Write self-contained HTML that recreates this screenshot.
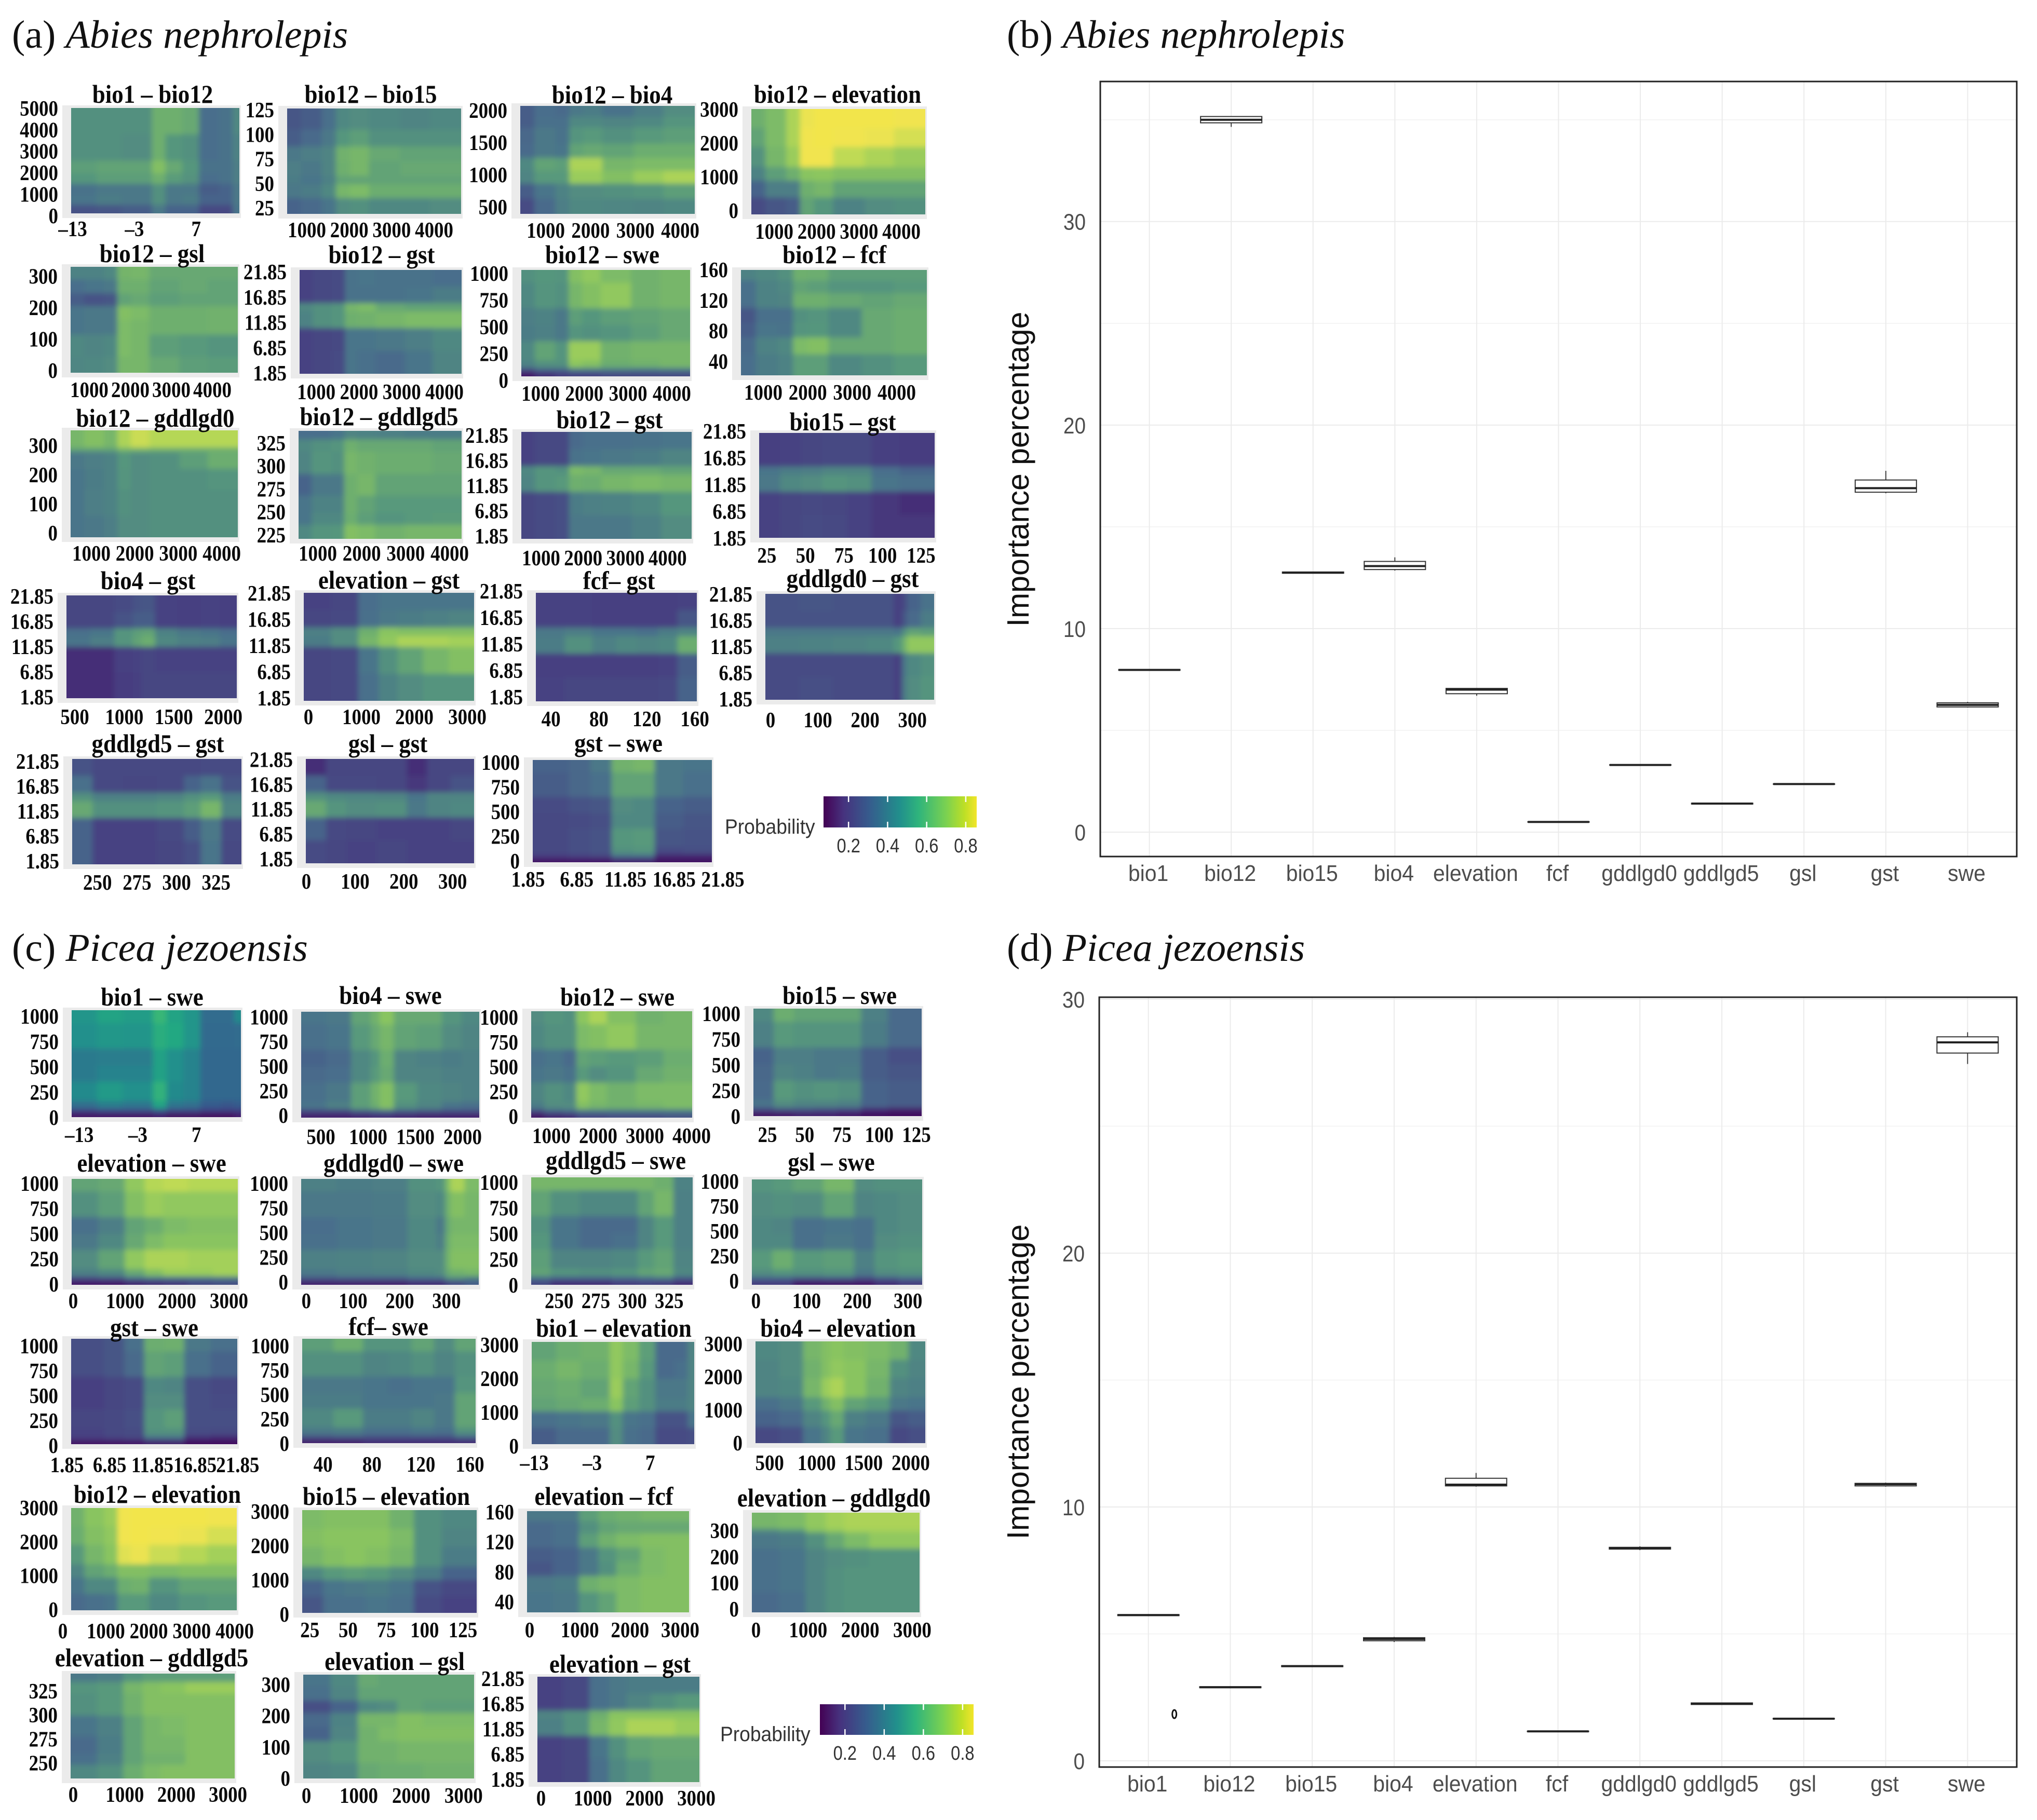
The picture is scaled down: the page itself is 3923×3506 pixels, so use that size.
<!DOCTYPE html>
<html lang="en">
<head>
<meta charset="utf-8">
<title>Partial dependence heatmaps and variable importance</title>
<style>
html,body{margin:0;padding:0;background:#fff;}
svg{display:block;}
.tick{font-family:"Liberation Serif",serif;font-weight:700;font-size:42px;fill:#0a0a0a;}
.title{font-family:"Liberation Serif",serif;font-weight:700;font-size:50px;fill:#0a0a0a;}
.panel{font-family:"Liberation Serif",serif;font-size:76px;fill:#111;}
.axis{font-family:"Liberation Sans",sans-serif;font-size:44px;fill:#4d4d4d;}
.ylab{font-family:"Liberation Sans",sans-serif;font-size:59px;fill:#111;}
.leg{font-family:"Liberation Sans",sans-serif;font-size:40px;fill:#333;}
</style>
</head>
<body>
<svg id="figure" xmlns="http://www.w3.org/2000/svg" width="3923" height="3506" viewBox="0 0 3923 3506">
<rect width="3923" height="3506" fill="#fff"/>
<defs>
<filter id="soft" x="-5%" y="-5%" width="110%" height="110%"><feGaussianBlur stdDeviation="5"/></filter>
<linearGradient id="legendRamp" x1="0" x2="1" y1="0" y2="0">
<stop offset="0" stop-color="#440154"/><stop offset=".13" stop-color="#46327e"/><stop offset=".3" stop-color="#365c8d"/><stop offset=".5" stop-color="#21908c"/><stop offset=".62" stop-color="#2fb47c"/><stop offset=".8" stop-color="#7ad151"/><stop offset=".92" stop-color="#bddf26"/><stop offset="1" stop-color="#f2e52a"/>
</linearGradient>
</defs>
<text class="panel" x="23" y="92">(a) <tspan font-style="italic">Abies nephrolepis</tspan></text>
<text class="panel" x="1939" y="92">(b) <tspan font-style="italic">Abies nephrolepis</tspan></text>
<text class="panel" x="23" y="1851">(c) <tspan font-style="italic">Picea jezoensis</tspan></text>
<text class="panel" x="1939" y="1851">(d) <tspan font-style="italic">Picea jezoensis</tspan></text>
<text class="ylab" text-anchor="middle" transform="translate(1981,904) rotate(-90)">Importance percentage</text>
<text class="ylab" text-anchor="middle" transform="translate(1981,2662) rotate(-90)">Importance percentage</text>
<g id="heatmaps"></g>
<g id="boxes"></g>
<g id="legends"></g>
</svg>
<script>
// ---- box plot data ----
const categories=["bio1","bio12","bio15","bio4","elevation","fcf","gddlgd0","gddlgd5","gsl","gst","swe"];
const abiesLow=[7.94,34.65,12.7,12.85,6.7,0.49,3.28,1.38,2.34,16.65,6.12];
const abiesQ1=[7.95,34.85,12.72,12.9,6.8,0.49,3.29,1.38,2.35,16.7,6.15];
const abiesMedian=[7.97,35.0,12.75,13.07,7.0,0.5,3.3,1.4,2.36,16.9,6.25];
const abiesQ3=[7.99,35.16,12.78,13.3,7.06,0.51,3.31,1.42,2.37,17.3,6.35];
const abiesHigh=[8.0,35.18,12.8,13.5,7.08,0.51,3.32,1.43,2.38,17.75,6.4];
const piceaLow=[5.7,2.86,3.7,4.68,10.8,1.14,8.3,2.2,1.64,10.8,27.45];
const piceaQ1=[5.72,2.88,3.71,4.73,10.83,1.15,8.34,2.22,1.65,10.83,27.88];
const piceaMedian=[5.74,2.9,3.73,4.8,10.88,1.16,8.38,2.25,1.66,10.9,28.3];
const piceaQ3=[5.76,2.92,3.75,4.85,11.13,1.17,8.41,2.28,1.67,10.93,28.52];
const piceaHigh=[5.78,2.94,3.77,4.88,11.34,1.18,8.45,2.3,1.68,10.96,28.7];
const piceaOutliers=[1.84];
const importanceTicks=[0,10,20,30];
const importanceMinor=[5,15,25,35];
const legendTicks=[0.2,0.4,0.6,0.8];

// ---- tick labels ----
const T1000to4000=[1000,2000,3000,4000];
const T0to4000=[0,1000,2000,3000,4000];
const Tbio1=[-13,-3,7];
const Tbio4=[500,1000,1500,2000];
const Tbio15=[25,50,75,100,125];
const Tbio15short=[25,50,75,100,125];
const Tswe=[0,250,500,750,1000];
const Tgst=["1.85","6.85","11.85","16.85","21.85"];
const Telev=[0,1000,2000,3000];
const Tfcf=[40,80,120,160];
const Tgdd0=[0,100,200,300];
const Tgdd5=[250,275,300,325];
const Tgsl=[0,100,200,300];

// ---- cell edges of each predictor (fraction of panel) ----
const colEdges={
 bio1:[0,.15,.3,.48,.56,.66,.76,.88,.96,1],
 bio12:[0,.08,.2,.28,.36,.47,.65,.82,1],
 bio4:[0,.14,.28,.39,.44,.52,.65,.79,.9,1],
 bio15:[0,.12,.24,.36,.5,.64,.8,1],
 elevation:[0,.16,.32,.44,.55,.7,.85,1],
 fcf:[0,.18,.35,.5,.63,.76,.88,1],
 gdd0:[0,.2,.4,.6,.76,.81,.84,.92,1],
 gdd5:[0,.12,.3,.5,.66,.76,.88,1],
 gsl:[0,.12,.24,.42,.6,.72,.86,1],
 gst:[0,.2,.32,.44,.56,.68,.84,1]
};
const rowEdges={
 bio12:[0,.25,.5,.62,.72,.82,.92,1],
 bio15:[0,.2,.36,.5,.64,.72,.85,1],
 bio4:[0,.1,.2,.35,.48,.6,.72,.86,1],
 elevation:[0,.18,.36,.55,.68,.84,1],
 gsl:[0,.12,.25,.37,.5,.64,.85,1],
 gst:[0,.16,.32,.4,.56,.78,1],
 gstB:[0,.16,.32,.4,.5,.75,1],
 swe:[0,.12,.36,.52,.67,.85,.92,.96,1],
 fcf:[0,.1,.22,.36,.5,.64,.8,1],
 gdd0:[0,.16,.2,.36,.55,.8,1],
 gdd5:[0,.08,.19,.4,.6,.76,.87,1]
};

// ---- heatmap probabilities (percent), read by eye ----
const a1=[[42,42,42,55,55,52,25,27,38],[42,42,40,55,45,42,25,27,35],[48,50,50,62,52,45,27,27,33],[45,48,48,55,47,43,25,27,33],[27,30,30,42,30,30,20,22,30],[28,32,30,42,30,32,22,22,30],[17,18,20,30,22,22,14,14,28]];
const a2=[[18,20,26,38,40,38,36,38],[20,24,30,45,48,42,42,42],[30,33,36,56,58,52,50,50],[33,30,36,55,58,50,52,52],[32,28,34,50,50,50,50,50],[30,32,38,58,60,54,54,54],[22,24,28,40,42,38,38,40]];
const a3=[[20,25,24,30,32,27,33,40],[20,26,26,38,38,36,38,44],[23,30,27,44,46,42,46,48],[24,30,28,50,52,50,54,54],[38,50,48,72,72,58,60,60],[36,46,46,68,68,62,68,72],[20,28,35,40,40,42,44,48],[15,24,33,38,38,37,36,38]];
const a4=[[55,60,72,84,88,88,88,86],[50,60,72,86,88,86,84,80],[43,58,68,86,86,76,72,68],[35,48,55,64,65,62,62,62],[22,33,33,55,58,50,50,50],[15,18,20,50,45,35,40,42]];
const a5=[[35,35,38,57,58,52,52,52],[25,28,30,55,55,50,52,50],[20,17,18,50,52,48,50,50],[28,30,30,62,60,55,55,56],[28,30,30,60,58,55,55,56],[38,36,38,60,58,48,46,44],[37,38,40,58,58,52,48,47]];
const a6=[[12,14,15,27,28,27,27,25],[12,14,15,27,27,27,28,32],[38,42,44,58,60,52,50,50],[35,42,44,55,56,58,60,60],[12,13,14,28,28,30,33,38],[12,13,15,28,26,24,28,36]];
const a7=[[42,45,44,62,66,60,56,58],[38,44,42,58,62,66,56,58],[33,35,30,48,45,48,50,52],[32,34,30,44,42,44,48,52],[38,50,44,68,68,56,58,58],[35,42,42,65,62,54,56,58],[15,22,22,30,30,30,28,30],[5,8,10,12,12,14,14,15]];
const a8=[[35,38,42,55,54,48,48,48],[26,35,38,50,48,44,44,46],[26,35,36,55,55,52,50,52],[18,26,26,42,44,38,52,54],[20,28,27,44,45,38,52,54],[24,35,38,60,62,52,52,54],[25,32,35,48,48,38,42,46]];
const a9=[[58,62,58,72,78,74,74,74],[50,50,50,58,58,56,55,55],[30,33,35,45,40,42,48,54],[28,32,35,44,40,42,42,44],[28,33,35,42,40,42,42,42],[28,30,33,40,40,42,42,42]];
const a10=[[25,25,28,36,35,34,32,32],[38,42,44,55,52,52,52,50],[36,44,42,58,56,54,54,52],[22,30,30,55,58,50,50,50],[28,35,35,55,50,46,46,46],[28,38,38,54,48,44,46,47],[38,44,45,62,60,56,58,58]];
const a11=[[12,14,14,24,26,26,27,28],[12,14,14,27,28,30,32,36],[38,44,42,60,58,52,52,50],[36,44,46,55,54,58,60,58],[13,15,16,32,34,35,38,45],[13,15,16,30,30,30,34,40]];
const a12=[[11,12,13,14,14,11,10],[11,12,13,14,14,11,10],[28,32,33,36,36,25,22],[30,38,40,44,42,28,26],[12,13,14,13,12,9,8],[12,13,15,14,12,9,9]];
const a13=[[13,13,15,17,18,12,11,12,11],[13,13,17,20,20,12,11,12,11],[26,29,44,48,50,35,30,28,25],[28,33,44,50,54,38,34,33,28],[8,8,11,12,13,12,12,12,12],[8,8,10,11,13,13,13,13,13]];
const a14=[[12,13,25,28,28,28,28],[13,14,26,30,32,34,36],[34,40,55,64,62,62,62],[32,40,58,66,72,72,70],[13,14,28,42,50,58,62],[13,14,26,35,40,44,44]];
const a15=[[12,12,11,11,11,11,12],[12,12,11,11,11,11,18],[30,33,28,28,26,32,36],[32,42,34,38,36,38,54],[11,11,11,11,11,12,20],[12,13,13,13,13,14,22]];
const a16=[[17,18,17,17,11,15,22,27],[17,17,17,17,11,18,24,32],[30,30,30,30,28,42,50,48],[34,35,36,38,45,56,66,66],[15,15,15,15,11,30,38,42],[15,16,15,15,11,32,40,44]];
const a17=[[17,14,14,14,14,15,15],[26,14,13,14,22,27,17],[42,34,34,36,42,46,32],[52,42,42,44,48,58,36],[22,12,12,14,20,30,15],[22,12,12,13,16,28,14]];
const a18=[[8,13,13,13,8,13,13],[22,14,14,13,9,13,17],[42,38,37,36,28,36,36],[52,44,40,42,30,36,38],[22,14,13,12,12,12,13],[15,13,12,13,12,12,12]];
const a19=[[22,23,30,56,58,30,28],[20,23,26,50,50,30,26],[15,17,18,40,38,22,20],[14,15,16,38,38,20,18],[14,16,17,45,46,18,17],[14,16,17,42,44,15,16],[10,12,13,26,26,7,7],[4,5,5,7,7,3,3]];
const c1=[[52,58,55,66,58,52,38,38,48],[50,53,52,62,60,52,37,37,38],[43,44,44,57,50,46,36,36,36],[43,46,46,57,50,46,36,36,36],[48,54,50,64,48,46,36,36,36],[40,44,42,58,42,40,30,28,30],[20,24,24,30,22,22,18,18,18],[6,6,6,8,5,5,4,4,8]];
const c2=[[28,30,50,56,64,52,52,44,38],[26,28,46,52,58,50,48,40,36],[22,24,38,44,54,36,34,32,34],[24,25,38,46,52,36,36,34,34],[26,30,48,56,62,46,38,36,34],[28,34,48,54,62,42,36,28,26],[14,14,20,22,24,20,18,16,16],[6,6,7,8,8,7,6,6,6]];
const c3=[[40,44,42,65,72,62,56,58],[38,42,42,60,62,66,58,58],[26,28,24,50,48,46,48,54],[28,30,27,46,40,44,52,56],[36,42,38,66,60,56,60,60],[32,40,40,62,58,56,58,60],[14,22,24,30,30,30,30,30],[4,7,8,14,14,16,16,18]];
const c4=[[38,54,50,50,50,34,24],[34,46,44,44,44,32,24],[22,33,33,30,30,20,16],[23,36,34,30,32,20,18],[24,46,42,44,42,22,20],[28,40,36,36,34,22,20],[15,18,18,16,14,8,6],[4,5,6,6,5,2,1]];
const c5=[[50,52,66,74,76,74,74],[42,48,62,68,66,66,66],[26,33,50,54,60,62,62],[30,38,52,60,64,64,64],[40,50,66,72,72,70,70],[34,38,52,62,68,68,70],[15,17,25,28,28,28,30],[5,5,7,8,9,14,16]];
const c6=[[34,32,33,42,44,60,72,60],[30,30,31,40,38,55,62,58],[25,28,30,38,30,52,58,58],[26,28,30,38,33,54,60,60],[34,35,36,40,40,56,62,62],[30,33,34,38,40,52,56,58],[18,20,20,24,24,40,40,32],[6,6,6,8,8,12,15,20]];
const c7=[[58,58,58,58,58,55,35],[50,42,38,38,50,58,34],[42,28,24,24,36,46,34],[45,28,24,26,36,46,34],[48,36,36,38,46,50,36],[50,44,42,44,50,52,38],[26,22,22,24,26,30,20],[14,8,8,10,12,10,8]];
const c8=[[44,46,50,58,40,42,42],[40,42,40,50,36,38,40],[38,36,26,28,26,38,40],[38,38,26,30,26,40,42],[46,54,46,48,34,44,46],[40,44,42,44,30,40,42],[22,22,18,20,15,20,24],[10,10,5,5,5,8,10]];
const c9=[[16,18,26,54,55,30,26],[16,18,24,50,48,26,22],[11,13,15,38,36,16,14],[11,13,15,40,40,16,15],[13,14,16,44,48,16,16],[12,14,15,42,42,15,14],[10,12,13,26,26,8,7],[4,4,5,6,6,2,2]];
const c10=[[48,54,44,44,50,40,50],[42,42,36,38,42,36,42],[30,30,28,26,28,28,44],[32,32,28,28,28,30,50],[38,46,32,32,36,30,50],[30,32,26,26,28,26,42],[18,20,18,18,18,18,24],[6,6,8,8,8,8,8]];
const c11=[[50,54,56,66,60,48,24,24,36],[54,58,54,66,58,46,24,26,36],[52,54,50,68,50,42,30,30,36],[50,52,54,64,48,42,32,32,36],[26,28,30,42,28,26,17,17,28],[20,24,24,40,26,24,15,15,16]];
const c12=[[38,40,58,62,64,62,60,56,38],[36,40,56,62,66,64,58,42,36],[36,38,58,68,72,64,56,36,34],[26,30,46,56,62,50,46,30,28],[22,24,36,44,52,34,30,18,20],[14,16,28,36,46,28,26,14,16]];
const c13=[[56,64,68,86,88,88,88,86],[54,62,66,86,88,86,84,80],[46,58,64,82,84,78,74,70],[36,50,54,62,62,60,62,62],[28,38,38,54,56,44,50,50],[24,26,28,46,46,38,44,46]];
const c14=[[60,62,62,62,56,42,38],[62,64,64,64,60,42,36],[58,62,64,62,58,42,32],[38,46,48,46,40,32,22],[22,28,30,32,28,17,14],[18,26,26,28,26,15,12]];
const c15=[[30,30,48,54,56,58,58],[24,26,42,50,52,52,52],[24,26,48,56,60,62,62],[20,22,30,44,50,60,62],[18,22,30,42,54,60,62],[30,32,55,58,60,62,62],[28,30,44,50,60,62,62]];
const c16=[[58,60,66,70,72,72,72],[40,46,62,66,70,70,70],[30,32,42,52,60,66,66],[26,28,36,40,42,44,44],[26,28,36,42,44,44,44],[24,26,36,42,44,44,44]];
const c17=[[30,33,44,48,48,48,48],[44,46,58,62,64,68,68],[42,46,56,62,62,62,62],[28,34,50,58,60,62,62],[24,32,50,58,58,62,62],[26,34,50,56,56,62,62],[38,42,54,60,62,62,62]];
const c18=[[28,38,52,50,50,50,50],[26,36,50,50,50,50,50],[16,22,38,40,50,48,48],[24,35,58,58,62,60,60],[22,36,56,60,62,62,62],[40,44,56,56,58,58,58],[36,38,52,54,54,56,56]];
const c19=[[12,14,26,30,32,32,32],[12,14,26,30,36,42,46],[36,42,55,64,64,64,64],[34,42,58,66,72,72,68],[12,13,28,42,50,52,52],[12,13,26,38,44,50,50]];

// ---- layout of each small panel ----
const layout=[
{t:"bio1 – bio12",tx:294,ty:198,c:a1,cv:"bio1",rv:"bio12",b:[137,208,461,411],xd:[-13.25,14],yd:[120,5020],xt:Tbio1,yt:[0,1000,2000,3000,4000,5000],xo:30},
{t:"bio12 – bio15",tx:714,ty:198,c:a2,cv:"bio12",rv:"bio15",b:[553,209,888,412],xd:[535,4636],yd:[19.2,126.6],xt:T1000to4000,yt:Tbio15,xo:31},
{t:"bio12 – bio4",tx:1179,ty:199,c:a3,cv:"bio12",rv:"bio4",b:[1002,204,1338,412],xd:[432,4324],yd:[395,2073],xt:T1000to4000,yt:Tbio4,xo:32},
{t:"bio12 – elevation",tx:1613,ty:198,c:a4,cv:"bio12",rv:"elevation",b:[1447,210,1782,413],xd:[461,4563],yd:[-108,3015],xt:T1000to4000,yt:Telev,xo:33},
{t:"bio12 – gsl",tx:293,ty:505,c:a5,cv:"bio12",rv:"gsl",b:[136,514,458,718],xd:[545,4620],yd:[-6.6,331],xt:T1000to4000,yt:Tgsl,xo:33},
{t:"bio12 – gst",tx:735,ty:507,c:a6,cv:"bio12",rv:"gst",b:[577,520,889,720],xd:[610,4400],yd:[1.75,22.26],xt:T1000to4000,yt:Tgst,xo:35},
{t:"bio12 – swe",tx:1160,ty:507,c:a7,cv:"bio12",rv:"swe",b:[1004,520,1329,725],xd:[560,4417],yd:[39,1034],xt:T1000to4000,yt:Tswe,xo:33},
{t:"bio12 – fcf",tx:1607,ty:507,c:a8,cv:"bio12",rv:"fcf",b:[1427,520,1785,723],xd:[498,4677],yd:[22,160],xt:T1000to4000,yt:Tfcf,xo:33},
{t:"bio12 – gddlgd0",tx:299,ty:822,c:a9,cv:"bio12",rv:"gdd0",b:[136,829,458,1035],xd:[522,4370],yd:[-14,353],xt:T1000to4000,yt:Tgdd0,xo:31},
{t:"bio12 – gddlgd5",tx:730,ty:819,c:a10,cv:"bio12",rv:"gdd5",b:[575,830,889,1038],xd:[563,4271],yd:[221,338.5],xt:T1000to4000,yt:[225,250,275,300,325],xo:28},
{t:"bio12 – gst",tx:1174,ty:825,c:a11,cv:"bio12",rv:"gst",b:[1004,832,1332,1038],xd:[533,4570],yd:[1.33,22.57],xt:T1000to4000,yt:Tgst,xo:37},
{t:"bio15 – gst",tx:1623,ty:829,c:a12,cv:"bio15",rv:"gst",b:[1462,834,1800,1036],xd:[20,133.8],yd:[1.95,21.56],xt:Tbio15,yt:Tgst,xo:34},
{t:"bio4 – gst",tx:285,ty:1135,c:a13,cv:"bio4",rv:"gstB",b:[128,1147,456,1345],xd:[416,2136],yd:[1.65,22.05],xt:Tbio4,yt:Tgst,xo:36},
{t:"elevation – gst",tx:749,ty:1134,c:a14,cv:"elevation",rv:"gstB",b:[585,1142,913,1350],xd:[-88,3127],yd:[1.35,21.95],xt:Telev,yt:Tgst,xo:31},
{t:"fcf– gst",tx:1192,ty:1135,c:a15,cv:"fcf",rv:"gst",b:[1032,1142,1342,1351],xd:[27.4,161.7],yd:[1.05,21.55],xt:Tfcf,yt:Tgst,xo:34},
{t:"gddlgd0 – gst",tx:1642,ty:1131,c:a16,cv:"gdd0",rv:"gst",b:[1474,1144,1799,1348],xd:[-11,346],yd:[1.75,21.95],xt:Tgdd0,yt:Tgst,xo:39},
{t:"gddlgd5 – gst",tx:304,ty:1449,c:a17,cv:"gdd5",rv:"gst",b:[139,1462,465,1665],xd:[234,341],yd:[1.2,22.35],xt:Tgdd5,yt:Tgst,xo:35},
{t:"gsl – gst",tx:747,ty:1449,c:a18,cv:"gsl",rv:"gst",b:[589,1462,913,1663],xd:[-1,344],yd:[1,22],xt:Tgsl,yt:Tgst,xo:35},
{t:"gst – swe",tx:1191,ty:1448,c:a19,cv:"gst",rv:"swe",b:[1026,1464,1371,1661],xd:[2.33,20.73],yd:[-10,1026],xt:Tgst,yt:Tswe,xo:33},
{t:"bio1 – swe",tx:293,ty:1937,c:c1,cv:"bio1",rv:"swe",b:[138,1946,464,2152],xd:[-14.3,14.6],yd:[5,1062],xt:Tbio1,yt:Tswe,xo:34,vivid:true},
{t:"bio4 – swe",tx:752,ty:1934,c:c2,cv:"bio4",rv:"swe",b:[580,1949,923,2153],xd:[291,2176],yd:[-20,1055],xt:Tbio4,yt:Tswe,xo:37},
{t:"bio12 – swe",tx:1189,ty:1937,c:c3,cv:"bio12",rv:"swe",b:[1023,1948,1333,2153],xd:[567,4011],yd:[-10,1063],xt:T1000to4000,yt:Tswe,xo:35},
{t:"bio15 – swe",tx:1617,ty:1934,c:c4,cv:"bio15",rv:"swe",b:[1451,1943,1775,2150],xd:[15.6,128.5],yd:[5,1050],xt:Tbio15short,yt:Tswe,xo:36},
{t:"elevation – swe",tx:292,ty:2257,c:c5,cv:"elevation",rv:"swe",b:[138,2271,458,2475],xd:[-30,3170],yd:[-5,1046],xt:Telev,yt:Tswe,xo:31},
{t:"gddlgd0 – swe",tx:758,ty:2257,c:c6,cv:"gdd0",rv:"swe",b:[580,2271,922,2475],xd:[-11,369],yd:[-26,1047],xt:Tgdd0,yt:Tswe,xo:31},
{t:"gddlgd5 – swe",tx:1186,ty:2252,c:c7,cv:"gdd5",rv:"swe",b:[1023,2268,1334,2475],xd:[231,341],yd:[5,1050],xt:Tgdd5,yt:Tswe,xo:31},
{t:"gsl – swe",tx:1601,ty:2255,c:c8,cv:"gsl",rv:"swe",b:[1448,2272,1776,2475],xd:[-8,328],yd:[-36,1020],xt:Tgsl,yt:Tswe,xo:31},
{t:"gst – swe",tx:297,ty:2574,c:c9,cv:"gst",rv:"swe",b:[137,2579,457,2782],xd:[2.34,21.8],yd:[15,1073],xt:Tgst,yt:Tswe,xo:40},
{t:"fcf– swe",tx:748,ty:2572,c:c10,cv:"fcf",rv:"swe",b:[582,2579,916,2780],xd:[23,164.7],yd:[5,1074],xt:Tfcf,yt:Tswe,xo:41},
{t:"bio1 – elevation",tx:1182,ty:2575,c:c11,cv:"bio1",rv:"elevation",b:[1024,2585,1337,2782],xd:[-13.45,14.6],yd:[60,3090],xt:Tbio1,yt:Telev,xo:36},
{t:"bio4 – elevation",tx:1614,ty:2575,c:c12,cv:"bio4",rv:"elevation",b:[1455,2584,1782,2780],xd:[350,2155],yd:[0,3080],xt:Tbio4,yt:Telev,xo:38},
{t:"bio12 – elevation",tx:303,ty:2895,c:c13,cv:"bio12",rv:"elevation",b:[137,2905,456,3102],xd:[193,4048],yd:[-15,3000],xt:T0to4000,yt:Telev,xo:40},
{t:"bio15 – elevation",tx:744,ty:2899,c:c14,cv:"bio15",rv:"elevation",b:[582,2909,918,3107],xd:[20,134],yd:[45,3045],xt:Tbio15,yt:Telev,xo:33},
{t:"elevation – fcf",tx:1163,ty:2899,c:c15,cv:"elevation",rv:"fcf",b:[1015,2911,1327,3106],xd:[-52,3176],yd:[26,161.5],xt:Telev,yt:Tfcf,xo:34},
{t:"elevation – gddlgd0",tx:1606,ty:2902,c:c16,cv:"elevation",rv:"gdd0",b:[1448,2914,1771,3106],xd:[-80,3140],yd:[-12,370],xt:Telev,yt:Tgdd0,xo:34},
{t:"elevation – gddlgd5",tx:292,ty:3210,c:c17,cv:"elevation",rv:"gdd5",b:[136,3224,452,3426],xd:[-50,3130],yd:[234,343.5],xt:Telev,yt:Tgdd5,xo:31},
{t:"elevation – gsl",tx:760,ty:3217,c:c18,cv:"elevation",rv:"gsl",b:[584,3226,913,3426],xd:[-60,3200],yd:[0,332],xt:Telev,yt:Tgsl,xo:33},
{t:"elevation – gst",tx:1194,ty:3222,c:c19,cv:"elevation",rv:"gst",b:[1035,3230,1347,3433],xd:[-70,3060],yd:[1.35,22.25],xt:Telev,yt:Tgst,xo:31}
];

const NS="http://www.w3.org/2000/svg";
function make(tag,attrs,parent){
  const el=document.createElementNS(NS,tag);
  for(const k in attrs)el.setAttribute(k,attrs[k]);
  parent.appendChild(el);
  return el;
}
function scale(d0,d1,r0,r1){return v=>r0+(v-d0)*(r1-r0)/(d1-d0);}
function fmt(v){const n=parseFloat(v);return n<0?"–"+Math.abs(n):String(v);}

// muted colour ramp seen in the small panels
const rampStops=[[0,[66,8,92]],[5,[68,25,105]],[10,[70,62,128]],[15,[70,75,132]],[25,[72,110,140]],[35,[78,130,132]],[45,[85,150,125]],[55,[110,175,110]],[65,[140,198,95]],[75,[185,217,85]],[85,[240,228,80]],[100,[248,232,60]]];
const vividStops=[[0,[68,1,84]],[13,[70,50,126]],[30,[54,92,141]],[40,[49,112,142]],[50,[33,144,140]],[60,[35,168,130]],[70,[68,191,112]],[100,[253,231,37]]];
function colour(v,stops){
  for(let i=1;i<stops.length;i++){
    if(v<=stops[i][0]){
      const a=stops[i-1],b=stops[i],t=(v-a[0])/(b[0]-a[0]);
      return "rgb("+a[1].map((c,k)=>Math.round(c+(b[1][k]-c)*t)).join(",")+")";
    }
  }
  return "rgb("+stops[stops.length-1][1].join(",")+")";
}

// ---- small heatmaps ----
const heatRoot=document.getElementById("heatmaps");
const defs=document.querySelector("defs");
layout.forEach((h,idx)=>{
  const [x0,y0,x1,y1]=h.b;
  const g=make("g",{},heatRoot);
  
  
  const bg=make("rect",{x:x0-17,y:y0-5,width:x1-x0+20,height:y1-y0+14,fill:"#ebebeb"},g);
  
  
  const clip=make("clipPath",{id:"clip"+idx},defs);
  make("rect",{x:x0,y:y0,width:x1-x0,height:y1-y0},clip);
  const clipped=make("g",{"clip-path":"url(#clip"+idx+")"},g);
  const soft=make("g",{filter:"url(#soft)"},clipped);
  const ce=colEdges[h.cv],re=rowEdges[h.rv];
  const px=scale(0,1,x0,x1),py=scale(0,1,y0,y1);
  h.c.forEach((row,r)=>{
    row.forEach((val,c)=>{
      const l=c===0?x0-30:px(ce[c]);
      const rr=c===row.length-1?x1+30:px(ce[c+1]);
      const t=r===0?y0-30:py(re[r]);
      const b=r===h.c.length-1?y1+30:py(re[r+1]);
      const cell=make("rect",{x:l,y:t,width:rr-l+.6,height:b-t+.6,fill:colour(val,h.vivid?vividStops:rampStops)},soft);
      
      
    });
  });
  const title=make("text",{class:"title","text-anchor":"middle",transform:"translate("+h.tx+","+h.ty+") scale(.9,1)"},g);
  title.textContent=h.t;
  
  
  const xs=scale(h.xd[0],h.xd[1],x0,x1),ys=scale(h.yd[0],h.yd[1],y1,y0);
  h.xt.forEach(v=>{
    const lab=make("text",{class:"tick","text-anchor":"middle",transform:"translate("+xs(parseFloat(v))+","+(y1+h.xo+14)+") scale(.88,1)"},g);
    lab.textContent=fmt(v);
    
    
  });
  h.yt.forEach(v=>{
    const lab=make("text",{class:"tick","text-anchor":"end",transform:"translate("+(x0-25)+","+(ys(parseFloat(v))+14)+") scale(.88,1)"},g);
    lab.textContent=fmt(v);
    
    
  });
});

// ---- legends ----
const legendRoot=document.getElementById("legends");
function drawLegend(lx0,lx1,ly0,ly1,titleX,titleY,labelY){
  const lg=make("g",{},legendRoot);
  
  
  const bar=make("rect",{x:lx0,y:ly0,width:lx1-lx0,height:ly1-ly0,fill:"url(#legendRamp)"},lg);
  
  
  const lt=make("text",{class:"leg","transform":"translate("+titleX+","+titleY+") scale(.93,1)"},lg);
  lt.textContent="Probability";
  
  
  const ls=scale(0.072,0.856,lx0,lx1);
  legendTicks.forEach(v=>{
    const t1=make("line",{x1:ls(v),x2:ls(v),y1:ly0,y2:ly0+11,stroke:"#fff","stroke-width":2.5},lg);
    
    
    const t2=make("line",{x1:ls(v),x2:ls(v),y1:ly1-11,y2:ly1,stroke:"#fff","stroke-width":2.5},lg);
    
    
    const lab=make("text",{class:"leg","text-anchor":"middle",transform:"translate("+ls(v)+","+labelY+") scale(.86,1)"},lg);
    lab.textContent=v.toFixed(1);
    lab.style.fontSize="38px";
    
    
  });
}
drawLegend(1586,1881,1534,1594,1396,1606,1642);
drawLegend(1579,1875,3283,3342,1387,3354,3390);

// ---- importance box plots ----
const boxRoot=document.getElementById("boxes");
function drawBoxes(o){
  const [L,T,R,B]=o.box;
  const xs=scale(-0.6,10.6,L,R),ys=scale(o.yd[0],o.yd[1],B,T);
  const g=make("g",{},boxRoot);
  
  
  const bg=make("rect",{x:L,y:T,width:R-L,height:B-T,fill:"#fff"},g);
  
  
  o.minor.forEach(v=>{
    if(v>o.yd[1])return;
    const m=make("line",{x1:L,x2:R,y1:ys(v),y2:ys(v),stroke:"#f1f1f1","stroke-width":1.5},g);
    
    
  });
  importanceTicks.forEach(v=>{
    const m=make("line",{x1:L,x2:R,y1:ys(v),y2:ys(v),stroke:"#ebebeb","stroke-width":2},g);
    
    
    const lab=make("text",{class:"axis","text-anchor":"end",transform:"translate("+(L-28)+","+(ys(v)+16)+") scale(.88,1)"},g);
    lab.textContent=String(v);
    
    
  });
  categories.forEach((c,i)=>{
    const xc=xs(i);
    const vg=make("line",{x1:xc,x2:xc,y1:T,y2:B,stroke:"#ebebeb","stroke-width":2},g);
    
    
    const lab=make("text",{class:"axis","text-anchor":"middle",transform:"translate("+(xc-2)+","+(B+47)+") scale(.93,1)"},g);
    lab.textContent=c;
    
    
  });
  categories.forEach((c,i)=>{
    const xc=xs(i),hw=59;
    const wh=make("line",{x1:xc,x2:xc,y1:ys(o.q3[i]),y2:ys(o.hi[i]),stroke:"#333","stroke-width":1.8},g);
    
    
    const wl=make("line",{x1:xc,x2:xc,y1:ys(o.q1[i]),y2:ys(o.lo[i]),stroke:"#333","stroke-width":1.8},g);
    
    
    const rect=make("rect",{x:xc-hw,y:ys(o.q3[i]),width:hw*2,height:Math.max(ys(o.q1[i])-ys(o.q3[i]),.5),fill:"#fff",stroke:"#333","stroke-width":2},g);
    
    
    const med=make("line",{x1:xc-hw,x2:xc+hw,y1:ys(o.med[i]),y2:ys(o.med[i]),stroke:"#222","stroke-width":4},g);
    
    
  });
  (o.out||[]).forEach(v=>{
    const pt=make("ellipse",{cx:xs(0)+50,cy:ys(v),rx:4,ry:8,fill:"#fff",stroke:"#111","stroke-width":3},g);
    
    
  });
  const fr=make("rect",{x:L,y:T,width:R-L,height:B-T,fill:"none",stroke:"#222","stroke-width":3},g);
  
  
}
drawBoxes({name:"abies-importance-plot",box:[2119,157,3884,1650],yd:[-1.2,36.88],minor:importanceMinor,lo:abiesLow,q1:abiesQ1,med:abiesMedian,q3:abiesQ3,hi:abiesHigh});
drawBoxes({name:"picea-importance-plot",box:[2117,1921,3884,3404],yd:[-0.245,30.08],minor:importanceMinor,lo:piceaLow,q1:piceaQ1,med:piceaMedian,q3:piceaQ3,hi:piceaHigh,out:piceaOutliers});
</script>
</body>
</html>
